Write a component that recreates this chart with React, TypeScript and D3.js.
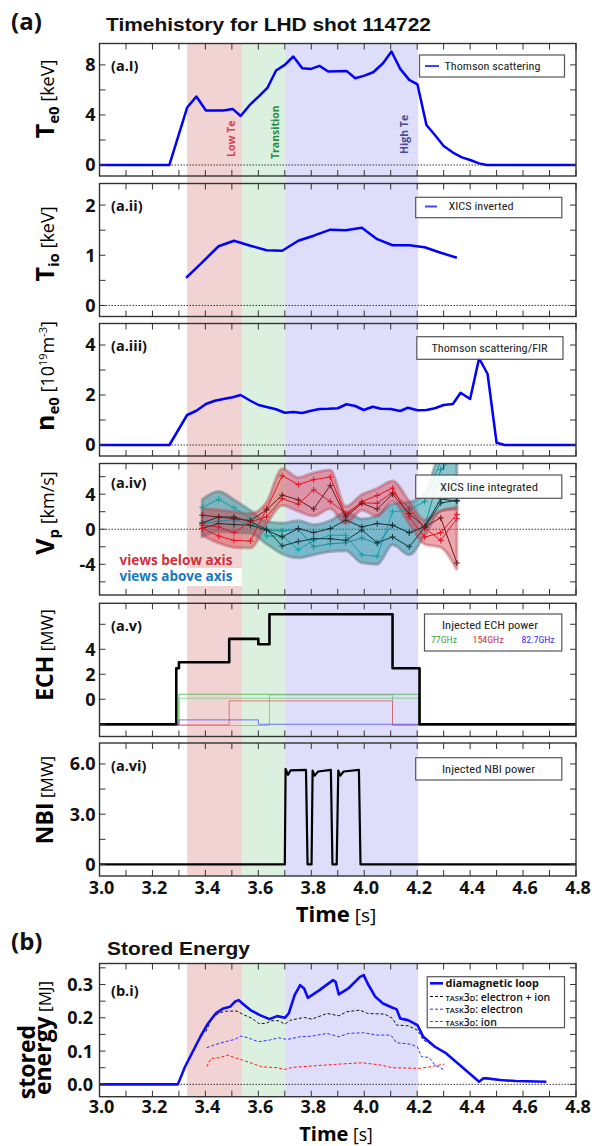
import React, { useEffect, useRef } from 'react';
import * as d3 from 'd3';

const SANS = "'Open Sans', 'DejaVu Sans', sans-serif";
const ARIAL = "'Liberation Sans', Arial, sans-serif";
const NARROW = "'Liberation Sans Narrow', 'Roboto Condensed', Roboto, 'Noto Sans', sans-serif";

// time axis
const timeTicks = d3.range(30, 49).map(d => d / 10);
const timeTickValues = [3.0, 3.2, 3.4, 3.6, 3.8, 4.0, 4.2, 4.4, 4.6, 4.8];
const timeTickLabels = ['3.0', '3.2', '3.4', '3.6', '3.8', '4.0', '4.2', '4.4', '4.6', '4.8'];

// discharge phases
const phaseNames = ['Low Te', 'Transition', 'High Te'];
const phaseEdges = [3.331, 3.539, 3.702, 4.204];
const phaseFills = ['#f2d3d4', '#dcf0df', '#dedefa'];
const phaseTextColors = ['#d2424e', '#2f8a3c', '#4a4a98'];

// (a.i) Te0, Thomson scattering [keV]
const teThomson = [[3.0,0],[3.264,0],[3.331,4.59],[3.366,5.47],[3.402,4.35],[3.468,4.35],[3.503,4.48],[3.533,3.92],[3.570,4.85],[3.601,5.47],[3.635,6.19],[3.667,7.55],[3.700,8.0],[3.732,8.67],[3.766,7.73],[3.799,7.68],[3.831,7.92],[3.864,7.47],[3.900,7.5],[3.933,7.52],[3.966,6.93],[3.998,7.12],[4.034,7.41],[4.071,8.13],[4.103,9.07],[4.136,7.68],[4.170,6.8],[4.201,6.45],[4.235,3.2],[4.267,2.4],[4.300,1.52],[4.335,0.99],[4.369,0.61],[4.400,0.4],[4.434,0.13],[4.463,0],[4.8,0]];

// (a.ii) Ti0, XICS inverted [keV]
const tiXics = [[3.327,0.55],[3.388,0.86],[3.450,1.18],[3.508,1.29],[3.570,1.19],[3.631,1.10],[3.690,1.09],[3.751,1.29],[3.809,1.39],[3.872,1.51],[3.930,1.50],[3.991,1.55],[4.049,1.32],[4.107,1.20],[4.170,1.20],[4.228,1.16],[4.289,1.05],[4.350,0.95]];

// (a.iii) ne0 [1e19 m^-3]
const neThomson = [[3.0,0],[3.264,0],[3.331,1.2],[3.366,1.37],[3.402,1.64],[3.436,1.77],[3.468,1.84],[3.503,1.91],[3.533,2.0],[3.570,1.77],[3.601,1.6],[3.635,1.51],[3.667,1.43],[3.700,1.29],[3.732,1.32],[3.766,1.28],[3.799,1.37],[3.831,1.44],[3.864,1.45],[3.900,1.47],[3.933,1.63],[3.966,1.56],[3.998,1.4],[4.032,1.53],[4.063,1.45],[4.100,1.44],[4.136,1.36],[4.165,1.49],[4.201,1.39],[4.235,1.4],[4.267,1.47],[4.300,1.6],[4.335,1.64],[4.364,2.09],[4.400,1.84],[4.434,3.47],[4.466,2.84],[4.500,0.09],[4.531,0],[4.8,0]];

// (a.iv) Vp, XICS line integrated [km/s]
const vpTime = [3.388,3.450,3.508,3.570,3.631,3.690,3.751,3.809,3.872,3.930,3.991,4.049,4.107,4.170,4.228,4.289,4.350];
const vpBelow1 = [0.1,-0.77,-1.27,-1.35,2.3,6.1,5.1,5.65,5.96,1.6,3.15,3.85,4.7,1.4,-0.9,-0.4,1.7];
const vpBelow2 = [0.46,0.27,-0.38,0.85,1.4,3.5,2.85,4.5,3.15,1.8,3.0,2.96,4.2,2.4,0.15,-1.27,1.2];
const vpBelow3 = [1.6,1.4,1.2,1.0,2.2,3.9,3.35,2.3,5.0,1.4,2.96,2.3,4.0,1.8,0.27,1.3,-3.85];
const vpAbove1 = [2.5,3.4,2.46,1.23,-0.77,-0.77,-2.35,-1.27,-0.69,-0.69,-2.92,-3.08,2.0,2.2,3.15,7.8,7.6];
const vpAbove2 = [0.65,0.92,1.1,0.54,-0.1,-0.2,0,-2.0,-1.65,-1.54,-1.0,-1.65,0.46,-0.38,0.27,6.8,8.5];
const vpAbove3 = [0.1,0.65,0.54,0.46,-0.1,-0.88,0.08,-0.38,0.08,1.04,0.27,0.65,0.46,-0.4,0.3,3.46,3.2];
const vpAbove4 = [0.73,1.4,1.4,0.85,0,-1.9,-1.4,-1.08,-1.08,-1.27,-0.1,-1.54,-0.88,-2.0,0.2,3.0,3.3];

// (a.v) ECH power [MW] (traces drawn with -2 offset baseline as in original)
const echTotal = [[3.0,-2],[3.29,-2],[3.29,2.48],[3.30,2.48],[3.30,2.96],[3.49,2.96],[3.49,4.83],[3.60,4.83],[3.60,4.4],[3.642,4.4],[3.642,6.8],[4.107,6.8],[4.107,2.48],[4.209,2.48],[4.209,-2],[4.8,-2]];
const ech77a = [[3.0,-2.1],[3.30,-2.1],[3.30,0.4],[4.205,0.4],[4.205,-2.1],[4.8,-2.1]];
const ech77b = [[3.0,-2.1],[3.30,-2.1],[3.30,0.08],[4.205,0.08],[4.205,-2.1],[4.8,-2.1]];
const ech77c = [[3.0,-2.1],[3.642,-2.1],[3.642,0.35],[4.107,0.35],[4.107,-2.1],[4.8,-2.1]];
const ech154 = [[3.0,-2.05],[3.49,-2.05],[3.49,-0.13],[4.107,-0.13],[4.107,-2.05],[4.8,-2.05]];
const ech827 = [[3.0,-2.0],[3.30,-2.0],[3.30,-1.65],[3.60,-1.65],[3.60,-2.0],[4.8,-2.0]];

// (a.vi) NBI power [MW]
const nbiPower = [[3.0,0],[3.700,0],[3.703,5.7],[3.712,5.35],[3.722,5.62],[3.780,5.65],[3.786,0],[3.801,0],[3.805,5.6],[3.813,5.3],[3.826,5.55],[3.874,5.65],[3.880,0],[3.896,0],[3.902,5.6],[3.910,5.3],[3.922,5.55],[3.980,5.65],[3.986,0],[4.8,0]];

// (b.i) stored energy [MJ]
const wpDiamag = [[3.0,0],[3.296,0],[3.323,0.053],[3.352,0.098],[3.381,0.143],[3.41,0.183],[3.439,0.213],[3.468,0.228],[3.493,0.233],[3.511,0.248],[3.526,0.253],[3.54,0.243],[3.57,0.223],[3.606,0.208],[3.642,0.196],[3.671,0.205],[3.70,0.2],[3.715,0.213],[3.737,0.268],[3.758,0.298],[3.773,0.288],[3.787,0.26],[3.831,0.283],[3.882,0.313],[3.892,0.308],[3.904,0.27],[3.94,0.288],[3.984,0.323],[3.998,0.328],[4.013,0.303],[4.042,0.263],[4.071,0.243],[4.107,0.23],[4.122,0.226],[4.136,0.198],[4.165,0.193],[4.201,0.178],[4.223,0.143],[4.267,0.113],[4.31,0.093],[4.354,0.063],[4.398,0.033],[4.434,0.008],[4.449,0.018],[4.463,0.018],[4.514,0.013],[4.572,0.01],[4.688,0.008]];
const wpTaskTotal = [[3.402,0.158],[3.424,0.198],[3.453,0.215],[3.482,0.22],[3.519,0.22],[3.548,0.208],[3.577,0.198],[3.601,0.183],[3.628,0.183],[3.649,0.191],[3.678,0.191],[3.70,0.181],[3.722,0.193],[3.773,0.201],[3.802,0.196],[3.86,0.213],[3.904,0.206],[3.933,0.218],[3.984,0.223],[4.013,0.213],[4.078,0.211],[4.107,0.198],[4.122,0.178],[4.165,0.176],[4.201,0.163],[4.223,0.133],[4.267,0.115],[4.303,0.098]];
const wpTaskElectron = [[3.405,0.11],[3.439,0.12],[3.475,0.128],[3.511,0.135],[3.533,0.145],[3.561,0.14],[3.599,0.128],[3.642,0.133],[3.678,0.14],[3.708,0.135],[3.758,0.143],[3.802,0.145],[3.86,0.153],[3.904,0.143],[3.94,0.153],[3.998,0.155],[4.049,0.148],[4.10,0.148],[4.122,0.125],[4.173,0.121],[4.201,0.113],[4.216,0.083],[4.245,0.081],[4.267,0.058],[4.303,0.043]];
const wpTaskIon = [[3.405,0.053],[3.421,0.078],[3.453,0.08],[3.485,0.088],[3.511,0.08],[3.54,0.073],[3.577,0.063],[3.613,0.053],[3.671,0.05],[3.70,0.045],[3.729,0.051],[3.817,0.056],[3.889,0.06],[3.991,0.065],[4.063,0.058],[4.107,0.05],[4.209,0.048],[4.252,0.053],[4.303,0.061]];

const X0 = 99.5, X1 = 576;

type Panel = { id: string; top: number; bottom: number; dom: [number, number]; ticks: number[]; labels: [number, string][]; tag: string; tagY: number; zero: boolean; xLabels?: number; labelX?: number };

const panels: Panel[] = [
  { id: 'a1', top: 43.5, bottom: 176, dom: [-0.88, 9.71], ticks: [0, 2, 4, 6, 8], labels: [[0, '0'], [4, '4'], [8, '8']], tag: '(a.I)', tagY: 71, zero: true },
  { id: 'a2', top: 183.5, bottom: 316.5, dom: [-0.22, 2.43], ticks: [0, 0.5, 1, 1.5, 2], labels: [[0, '0'], [1, '1'], [2, '2']], tag: '(a.ii)', tagY: 211, zero: true },
  { id: 'a3', top: 323.5, bottom: 456, dom: [-0.44, 4.86], ticks: [0, 1, 2, 3, 4], labels: [[0, '0'], [2, '2'], [4, '4']], tag: '(a.iii)', tagY: 351, zero: true },
  { id: 'a4', top: 463.5, bottom: 595, dom: [-7.5, 7.5], ticks: [-6, -4, -2, 0, 2, 4, 6], labels: [[-4, '-4'], [0, '0'], [4, '4']], tag: '(a.iv)', tagY: 488, zero: true },
  { id: 'a5', top: 603.3, bottom: 736.5, dom: [-2.98, 7.68], ticks: [-2, 0, 2, 4, 6], labels: [[0, '0'], [2, '2'], [4, '4']], tag: '(a.v)', tagY: 631, zero: false },
  { id: 'a6', top: 743, bottom: 876, dom: [-0.69, 7.25], ticks: [0, 1.5, 3, 4.5, 6], labels: [[0, '0'], [3, '3.0'], [6, '6.0']], tag: '(a.vi)', tagY: 771, zero: false, xLabels: 894 },
  { id: 'b', top: 963.5, bottom: 1096.7, dom: [-0.037, 0.363], ticks: [0, 0.05, 0.1, 0.15, 0.2, 0.25, 0.3, 0.35], labels: [[0, '0.0'], [0.1, '0.1'], [0.2, '0.2'], [0.3, '0.3']], tag: '(b.i)', tagY: 996, zero: true, xLabels: 1113, labelX: 93 },
];

function yTitle(svg: any, cx: number, cy: number, parts: any[]) {
  const t = svg.append('text').attr('transform', `translate(${cx},${cy}) rotate(-90)`)
    .attr('text-anchor', 'middle').attr('font-family', SANS).attr('fill', '#000');
  parts.forEach(p => t.append('tspan').text(p.t).attr('font-size', p.s).attr('font-weight', p.w || 700).attr('dy', p.dy || 0));
}

function legendBox(svg: any, x0: number, x1: number, y0: number, y1: number) {
  svg.append('rect').attr('x', x0).attr('y', y0).attr('width', x1 - x0).attr('height', y1 - y0)
    .attr('fill', 'rgba(255,255,255,0.9)').attr('stroke', '#555').attr('stroke-width', 1.2);
}

function legendText(svg: any, x: number, y: number, text: string, width: number, anchor = 'start', color = '#222', size = 11) {
  svg.append('text').attr('x', x).attr('y', y).attr('text-anchor', anchor).attr('font-family', NARROW)
    .attr('font-size', size).attr('fill', color).attr('textLength', width).attr('lengthAdjust', 'spacingAndGlyphs').text(text);
}

export default function App() {
  const ref = useRef<SVGSVGElement>(null);
  useEffect(() => {
    const svg = d3.select(ref.current);
    svg.selectAll('*').remove();
    const x = d3.scaleLinear().domain([3.0, 4.8]).range([X0, X1]);

    // phase shading behind all panels
    const shade = (top: number, bottom: number) => phaseFills.forEach((c, i) => {
      svg.append('rect').attr('x', x(phaseEdges[i])).attr('width', x(phaseEdges[i + 1]) - x(phaseEdges[i]))
        .attr('y', top).attr('height', bottom - top).attr('fill', c);
    });
    shade(43.5, 876);
    shade(963.5, 1096.7);

    const scales: any = {};
    const bodies: any = {};
    panels.forEach(p => {
      const y = d3.scaleLinear().domain(p.dom).range([p.bottom, p.top]);
      scales[p.id] = y;
      svg.append('clipPath').attr('id', 'clip-' + p.id).append('rect')
        .attr('x', X0).attr('y', p.top).attr('width', X1 - X0).attr('height', p.bottom - p.top);
      const body = svg.append('g').attr('clip-path', `url(#clip-${p.id})`);
      if (p.zero) body.append('line').attr('x1', X0).attr('x2', X1).attr('y1', y(0)).attr('y2', y(0))
        .attr('stroke', '#222').attr('stroke-width', 0.9).attr('stroke-dasharray', '1.5,1.5');
      bodies[p.id] = body;
    });

    const line = (y: any) => d3.line<number[]>().x(d => x(d[0])).y(d => y(d[1]));
    const path = (g: any, data: number[][], y: any, color: string, width: number, dash?: string, opacity = 1) =>
      g.append('path').datum(data).attr('d', line(y)).attr('fill', 'none').attr('stroke', color)
        .attr('stroke-width', width).attr('stroke-dasharray', dash || null).attr('stroke-opacity', opacity)
        .attr('stroke-linejoin', 'round');

    // (a.i)
    path(bodies.a1, teThomson, scales.a1, '#0000ff', 2.5);
    phaseNames.forEach((n, i) => {
      const cx = [235, 278.5, 408][i];
      const cy = [157, 159, 154][i];
      bodies.a1.append('text').attr('transform', `translate(${cx},${cy}) rotate(-90)`).attr('text-anchor', 'start')
        .attr('font-family', SANS).attr('font-weight', 700).attr('font-size', 10.5).attr('fill', phaseTextColors[i]).text(n);
    });
    legendBox(svg, 419.5, 564.5, 55, 77);
    svg.append('line').attr('x1', 425).attr('x2', 439).attr('y1', 66).attr('y2', 66).attr('stroke', '#0000ff').attr('stroke-width', 1.5);
    legendText(svg, 444.5, 70, 'Thomson scattering', 96);

    // (a.ii)
    path(bodies.a2, tiXics, scales.a2, '#0000ff', 2.5);
    legendBox(svg, 415.7, 561.8, 197.3, 217.7);
    svg.append('line').attr('x1', 425).attr('x2', 437).attr('y1', 206.5).attr('y2', 206.5).attr('stroke', '#4444ff').attr('stroke-width', 2);
    legendText(svg, 448.5, 210, 'XICS inverted', 65);

    // (a.iii)
    path(bodies.a3, neThomson, scales.a3, '#0000ff', 2.5);
    legendBox(svg, 416.8, 563, 336.7, 359.3);
    legendText(svg, 489.5, 352, 'Thomson scattering/FIR', 116, 'middle');

    // (a.iv) Vp with group envelopes
    const y4 = scales.a4;
    const below = [vpBelow1, vpBelow2, vpBelow3];
    const above = [vpAbove1, vpAbove2, vpAbove3, vpAbove4];
    const envelope = (group: number[][], pad: number) => vpTime.map((t, i) => {
      const v = group.map(s => s[i]);
      return { t, lo: (d3.min(v) as number) - pad, hi: (d3.max(v) as number) + pad };
    });
    const band = d3.area<any>().x(d => x(d.t)).y0(d => y4(d.lo)).y1(d => y4(d.hi)).curve(d3.curveMonotoneX);
    bodies.a4.append('path').datum(envelope(above, 0.9)).attr('d', band).attr('fill', '#2a98a6').attr('fill-opacity', 0.55)
      .attr('stroke', '#6b7f88').attr('stroke-opacity', 0.55).attr('stroke-width', 3);
    bodies.a4.append('path').datum(envelope(below, 0.8)).attr('d', band).attr('fill', '#d83a48').attr('fill-opacity', 0.45)
      .attr('stroke', '#b04a55').attr('stroke-opacity', 0.4).attr('stroke-width', 3);
    const chordColors: [number[], string][] = [
      [vpAbove1, '#0fa3a3'], [vpAbove2, '#168f96'], [vpAbove3, '#1d2f30'], [vpAbove4, '#0e3a3c'],
      [vpBelow1, '#e8141e'], [vpBelow2, '#cc1f2c'], [vpBelow3, '#6e1a1a'],
    ];
    chordColors.forEach(([vals, c]) => {
      const pts = vpTime.map((t, i) => [t, vals[i]]);
      path(bodies.a4, pts, y4, c, 1);
      bodies.a4.append('path').attr('d', pts.map(([t, v]) => {
        const px = x(t), py = y4(v);
        return `M${px - 3},${py}H${px + 3}M${px},${py - 3}V${py + 3}`;
      }).join('')).attr('stroke', c).attr('stroke-width', 1).attr('fill', 'none');
    });
    svg.append('rect').attr('x', 115.7).attr('y', 568).attr('width', 126).attr('height', 18).attr('fill', '#fff');
    svg.append('text').attr('x', 119.5).attr('y', 565).attr('font-family', SANS).attr('font-weight', 700).attr('font-size', 13.5)
      .attr('fill', '#d0303c').attr('textLength', 113).attr('lengthAdjust', 'spacingAndGlyphs').text('views below axis');
    svg.append('text').attr('x', 119.5).attr('y', 581).attr('font-family', SANS).attr('font-weight', 700).attr('font-size', 13.5)
      .attr('fill', '#1878c0').attr('textLength', 113).attr('lengthAdjust', 'spacingAndGlyphs').text('views above axis');
    legendBox(svg, 415.7, 561.8, 475, 498.3);
    legendText(svg, 489, 491, 'XICS line integrated', 98, 'middle');

    // (a.v) ECH
    const y5 = scales.a5;
    path(bodies.a5, ech77a, y5, '#3cb043', 1, undefined, 0.75);
    path(bodies.a5, ech77b, y5, '#6cc86c', 1, undefined, 0.7);
    path(bodies.a5, ech77c, y5, '#7fae80', 1, undefined, 0.7);
    path(bodies.a5, ech154, y5, '#e05060', 1, undefined, 0.75);
    path(bodies.a5, ech827, y5, '#4a4aff', 1, undefined, 0.75);
    path(bodies.a5, echTotal, y5, '#000', 2.6);
    legendBox(svg, 424.5, 561.8, 614, 651);
    legendText(svg, 490, 629, 'Injected ECH power', 96, 'middle');
    legendText(svg, 444, 643, '77GHz', 26, 'middle', '#3aa03a', 9.5);
    legendText(svg, 488, 643, '154GHz', 31, 'middle', '#c83040', 9.5);
    legendText(svg, 538, 643, '82.7GHz', 33, 'middle', '#2d2df0', 9.5);

    // (a.vi) NBI
    path(bodies.a6, nbiPower, scales.a6, '#000', 2.2);
    legendBox(svg, 415.7, 561.8, 757.7, 780);
    legendText(svg, 488.5, 773, 'Injected NBI power', 93, 'middle');

    // (b.i) stored energy
    const yb = scales.b;
    path(bodies.b, wpTaskTotal, yb, '#111', 1, '3,2');
    path(bodies.b, wpTaskElectron, yb, '#2b2bff', 1, '3,2');
    path(bodies.b, wpTaskIon, yb, '#ff1a1a', 1, '3,2');
    path(bodies.b, wpDiamag, yb, '#0a0aff', 2.6);
    legendBox(svg, 427.2, 564.5, 976.7, 1027.7);
    const bLegend: [string, string, number, string | null][] = [
      ['diamagnetic loop', '#0a0aff', 2.6, null],
      [': electron + ion', '#111', 1, '3,2'],
      [': electron', '#2b2bff', 1, '3,2'],
      [': ion', '#ff1a1a', 1, '3,2'],
    ];
    bLegend.forEach(([label, c, w, dash], i) => {
      const yy = [983.3, 996.5, 1009.2, 1021.5][i];
      svg.append('line').attr('x1', 430).attr('x2', 443).attr('y1', yy).attr('y2', yy).attr('stroke', c)
        .attr('stroke-width', w).attr('stroke-dasharray', dash);
      const t = svg.append('text').attr('x', 445.6).attr('y', yy + 4).attr('font-family', SANS).attr('fill', '#111');
      if (i === 0) {
        t.attr('font-weight', 700).attr('font-size', 10.8).text(label);
      } else {
        t.attr('font-weight', 600).attr('font-size', 10.5);
        t.append('tspan').attr('font-size', 7.5).text('TASK');
        t.append('tspan').text('3');
        t.append('tspan').attr('font-size', 7.5).text('D');
        t.append('tspan').text(label);
      }
    });

    // frames, ticks and tick labels
    panels.forEach(p => {
      const y = scales[p.id];
      svg.append('rect').attr('x', X0).attr('y', p.top).attr('width', X1 - X0).attr('height', p.bottom - p.top)
        .attr('fill', 'none').attr('stroke', '#333').attr('stroke-width', 1.4);
      const tk = svg.append('g').attr('stroke', '#333').attr('stroke-width', 1);
      timeTicks.forEach(t => {
        tk.append('line').attr('x1', x(t)).attr('x2', x(t)).attr('y1', p.top).attr('y2', p.top + 6);
        tk.append('line').attr('x1', x(t)).attr('x2', x(t)).attr('y1', p.bottom).attr('y2', p.bottom - 6);
      });
      p.ticks.forEach(v => {
        tk.append('line').attr('x1', X0).attr('x2', X0 + 6).attr('y1', y(v)).attr('y2', y(v));
        tk.append('line').attr('x1', X1).attr('x2', X1 - 6).attr('y1', y(v)).attr('y2', y(v));
      });
      p.labels.forEach(([v, s]) => {
        svg.append('text').attr('x', p.labelX || 95.5).attr('y', y(v)).attr('dy', '0.36em').attr('text-anchor', 'end')
          .attr('font-family', SANS).attr('font-weight', 700).attr('font-size', 18).attr('fill', '#111').text(s);
      });
      if (p.xLabels) {
        timeTickValues.forEach((t, i) => {
          svg.append('text').attr('x', x(t) + 2).attr('y', p.xLabels).attr('text-anchor', 'middle')
            .attr('font-family', SANS).attr('font-weight', 700).attr('font-size', 18).attr('fill', '#111').text(timeTickLabels[i]);
        });
      }
      svg.append('text').attr('x', 111).attr('y', p.tagY).attr('font-family', SANS).attr('font-weight', 700)
        .attr('font-size', 14.5).attr('fill', '#111').text(p.tag);
    });

    // titles
    svg.append('text').attr('x', 11).attr('y', 30).attr('font-family', SANS).attr('font-weight', 700).attr('font-size', 24).attr('fill', '#111').text('(a)');
    svg.append('text').attr('x', 106).attr('y', 31).attr('font-family', ARIAL).attr('font-weight', 700).attr('font-size', 19)
      .attr('textLength', 325).attr('lengthAdjust', 'spacingAndGlyphs').attr('fill', '#111').text('Timehistory for LHD shot 114722');
    svg.append('text').attr('x', 11).attr('y', 950).attr('font-family', SANS).attr('font-weight', 700).attr('font-size', 24).attr('fill', '#111').text('(b)');
    svg.append('text').attr('x', 107).attr('y', 955).attr('font-family', ARIAL).attr('font-weight', 700).attr('font-size', 19)
      .attr('textLength', 143).attr('lengthAdjust', 'spacingAndGlyphs').attr('fill', '#111').text('Stored Energy');
    [[922, 22, 19], [1141, 20, 17.5]].forEach(([yy, s1, s2]) => {
      const t = svg.append('text').attr('x', 336).attr('y', yy).attr('text-anchor', 'middle').attr('font-family', SANS).attr('fill', '#000');
      t.append('tspan').attr('font-weight', 700).attr('font-size', s1).text('Time');
      t.append('tspan').attr('font-weight', 400).attr('font-size', s2).text(' [s]');
    });

    // y-axis titles
    yTitle(svg, 54, 99, [{ t: 'T', s: 25 }, { t: 'e0', s: 15, dy: 5 }, { t: ' [keV]', s: 18, w: 400, dy: -5 }]);
    yTitle(svg, 54, 244, [{ t: 'T', s: 25 }, { t: 'io', s: 15, dy: 5 }, { t: ' [keV]', s: 18, w: 400, dy: -5 }]);
    yTitle(svg, 54, 376, [{ t: 'n', s: 25 }, { t: 'e0', s: 15, dy: 5 }, { t: ' [10', s: 18, w: 400, dy: -5 }, { t: '19', s: 11, w: 400, dy: -7 },
      { t: 'm', s: 18, w: 400, dy: 7 }, { t: '-3', s: 11, w: 400, dy: -7 }, { t: ']', s: 18, w: 400, dy: 7 }]);
    yTitle(svg, 54, 513, [{ t: 'V', s: 25 }, { t: 'p', s: 15, dy: 5 }, { t: ' [km/s]', s: 18, w: 400, dy: -5 }]);
    yTitle(svg, 53, 655, [{ t: 'ECH', s: 23 }, { t: ' [MW]', s: 17, w: 400 }]);
    yTitle(svg, 53, 800, [{ t: 'NBI', s: 23 }, { t: ' [MW]', s: 17, w: 400 }]);
    yTitle(svg, 35, 1062, [{ t: 'stored', s: 23 }]);
    yTitle(svg, 51, 1038, [{ t: 'energy', s: 23 }, { t: ' [MJ]', s: 17, w: 400 }]);
  }, []);

  return <svg ref={ref} width={603} height={1146} style={{ position: 'absolute', left: 0, top: 0, background: '#fff' }} />;
}
